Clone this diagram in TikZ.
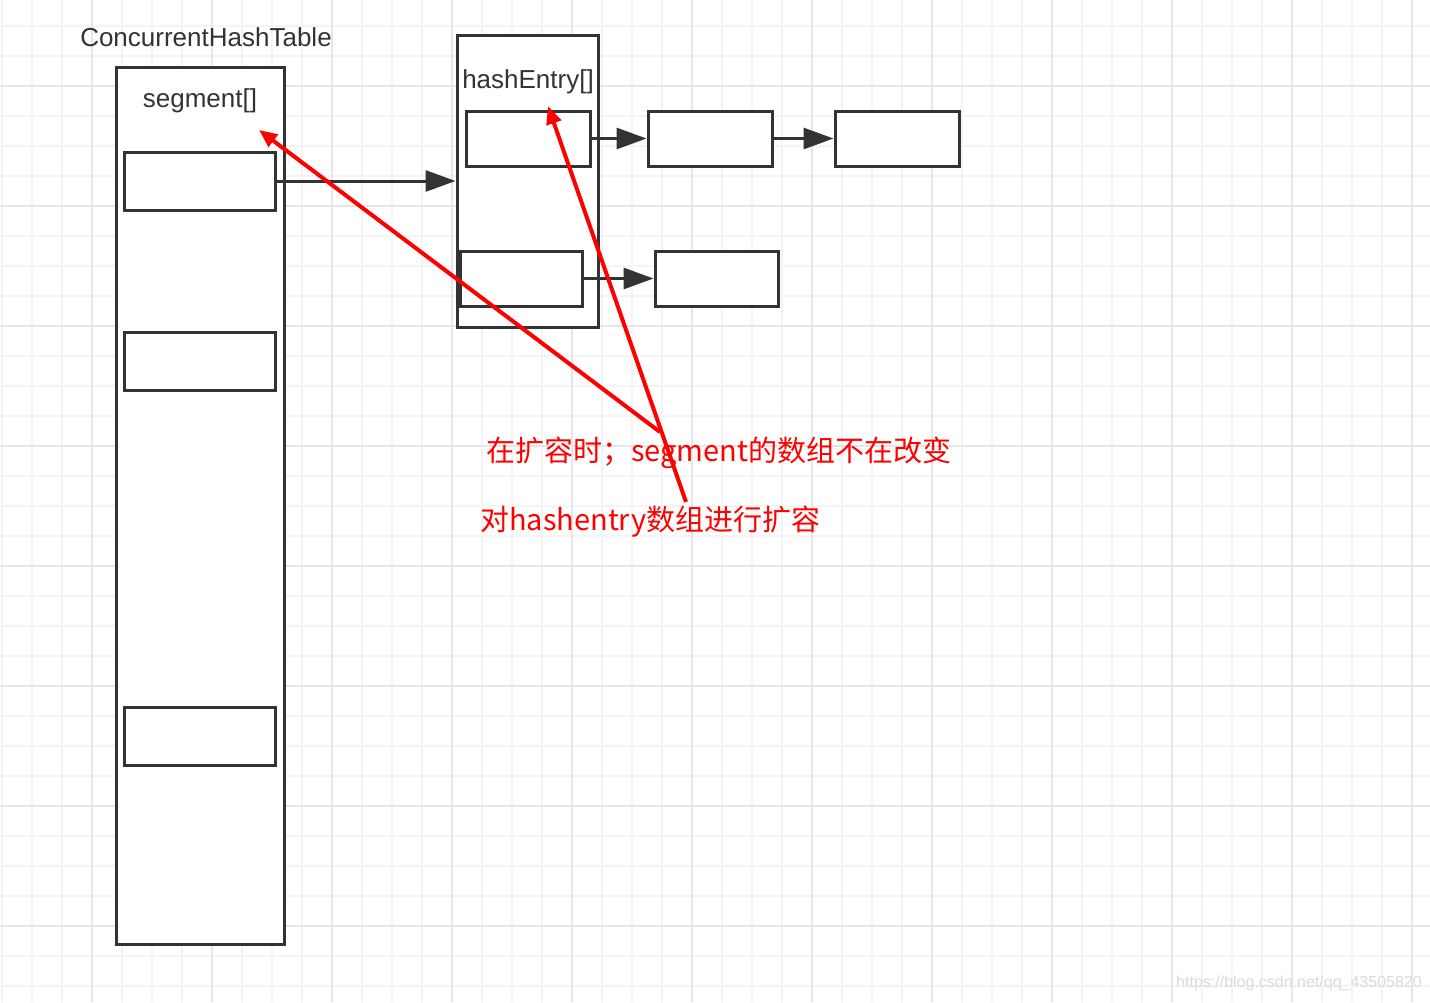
\documentclass[tikz,border=0pt]{standalone}
\usepackage{fontspec}
\setmainfont{Liberation Sans}
\newfontfamily\cjk{Noto Sans CJK SC}
\usetikzlibrary{arrows.meta}
\definecolor{dk}{HTML}{333333}
\definecolor{gmin}{HTML}{F4F4F4}
\definecolor{gmaj}{HTML}{E6E6E6}
\definecolor{rd}{HTML}{FF0000}
\begin{document}
\begin{tikzpicture}[x=1pt,y=-1pt,
  box/.style={draw=dk,line width=3pt,fill=white,rectangle,inner sep=0pt},
  darr/.style={draw=dk,line width=3pt,-{Triangle[length=30pt,width=21pt]}},
  rarr/.style={draw=rd,line width=4pt,-{Triangle[length=18pt,width=15pt]}},
  lbl/.style={text=dk,inner sep=0pt,font=\fontsize{26}{30}\selectfont},
  rtxt/.style={text=rd,inner sep=0pt,anchor=west,font=\cjk\fontsize{29}{33}\selectfont}]
\useasboundingbox (0,0) rectangle (1430,1002);
\fill[white] (0,0) rectangle (1430,1002);
% grid
\foreach \i in {0,...,47} {\draw[gmin,line width=1.5pt] (2+30*\i,0) -- (2+30*\i,1002);}
\foreach \i in {0,...,32} {\draw[gmin,line width=1.5pt] (0,26+30*\i) -- (1430,26+30*\i);}
\foreach \i in {0,...,11} {\draw[gmaj,line width=2pt] (92+120*\i,0) -- (92+120*\i,1002);}
\foreach \i in {0,...,7} {\draw[gmaj,line width=2pt] (0,86+120*\i) -- (1430,86+120*\i);}
% left table
\node[lbl] (cht) at (206,37) {ConcurrentHashTable};
\node[box,minimum width=168pt,minimum height=877pt] (tab) at (200,505.5) {};
\node[lbl] (seglbl) at (200,101) {segment[]};
\node[box,minimum width=151pt,minimum height=58pt] (s1) at (199.5,181) {};
\node[box,minimum width=151pt,minimum height=58pt] (s2) at (199.5,361.5) {};
\node[box,minimum width=151pt,minimum height=58pt] (s3) at (199.5,736) {};
% hash entry array
\node[box,minimum width=141pt,minimum height=292pt] (he) at (527.5,181) {};
\node[lbl] (helbl) at (528,82) {hashEntry[]};
\node[box,minimum width=124pt,minimum height=55pt] (e1) at (528,138.5) {};
\node[box,minimum width=122pt,minimum height=55pt] (e2) at (521,278.5) {};
\node[box,minimum width=124pt,minimum height=55pt] (a) at (710,138.5) {};
\node[box,minimum width=124pt,minimum height=55pt] (b) at (897,138.5) {};
\node[box,minimum width=123pt,minimum height=55pt] (c) at (716.5,278.5) {};
% dark arrows
\draw[darr] (s1.east) -- (he.west);
\draw[darr] (e1.east) -- (a.west);
\draw[darr] (a.east) -- (b.west);
\draw[darr] (e2.east) -- (c.west);
% red arrows
\coordinate (r1s) at (660,432);
\coordinate (r1e) at (259,130);
\coordinate (r2s) at (686,502);
\coordinate (r2e) at (548,106);
\draw[rarr] (r1s) -- (r1e);
\draw[rarr] (r2s) -- (r2e);
% red texts
\node[rtxt] (t1) at (486,453) {在扩容时；segment的数组不在改变};
\node[rtxt] (t2) at (480,522) {对hashentry数组进行扩容};
% watermark
\node[text=black!14,inner sep=0pt,font=\fontsize{16}{18}\selectfont] (wm) at (1299,983) {https://blog.csdn.net/qq\_43505820};
\end{tikzpicture}
\end{document}
